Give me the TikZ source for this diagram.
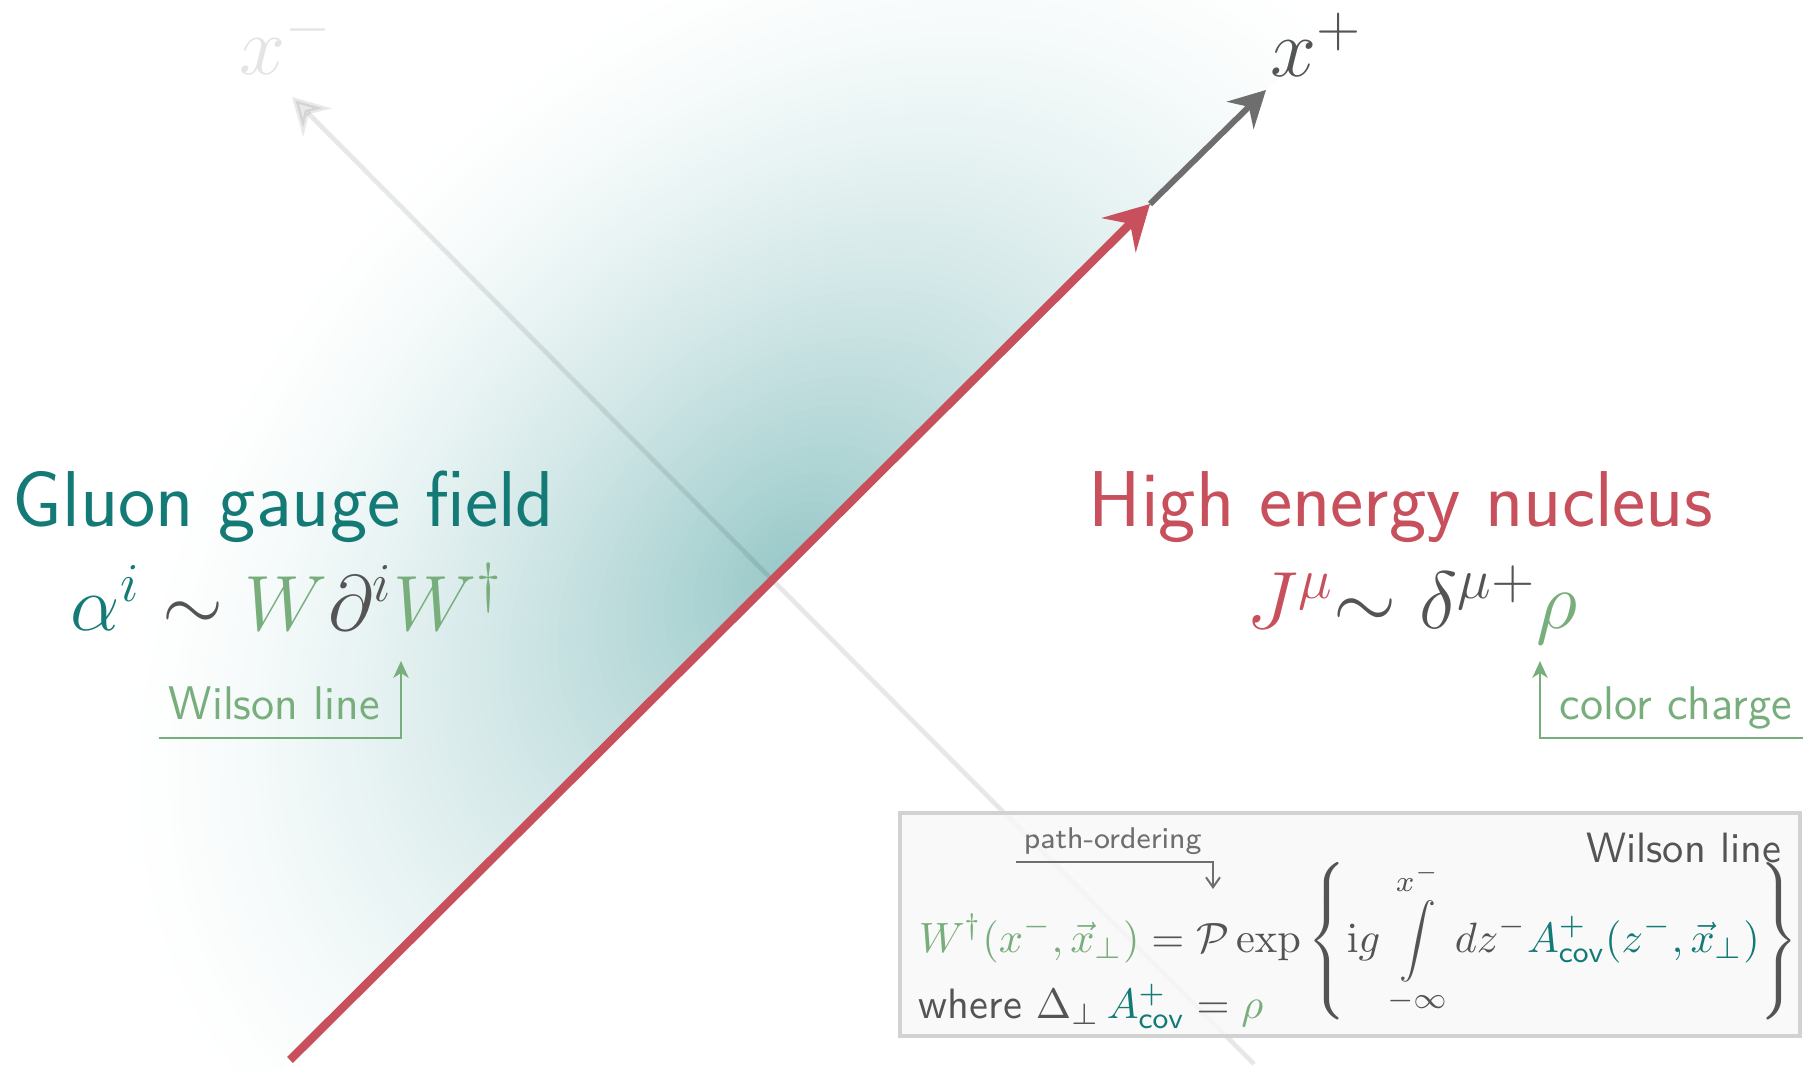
\RequirePackage{fix-cm}
\documentclass[tikz,border=0pt]{standalone}
\usepackage{amsmath}
\usepackage{graphicx}
\usetikzlibrary{arrows.meta}
\definecolor{tealc}{HTML}{137A76}
\definecolor{redc}{HTML}{C7505C}
\definecolor{greenc}{HTML}{78AD7C}
\definecolor{grayc}{HTML}{545454}
\definecolor{arrowgray}{HTML}{6E6E6E}
\definecolor{faintc}{HTML}{E4E4E4}
\definecolor{boxfill}{HTML}{F8F8F8}
\definecolor{boxdraw}{HTML}{D2D2D2}
\definecolor{shpeak}{RGB}{152,200,200}
\newcommand{\pintegral}{\mathop{\vcenter{\hbox{\scalebox{0.84}{$\displaystyle\int$}}}}\limits}
\begin{document}
\begin{tikzpicture}[x=0.25pt,y=-0.25pt,
  title/.style={font=\sffamily\fontsize{19.8}{23}\selectfont, inner sep=0pt, anchor=base west},
  formula/.style={inner sep=0pt, anchor=base west, text=grayc},
  lbl/.style={font=\sffamily\fontsize{11.8}{14}\selectfont, text=greenc, inner sep=0pt, anchor=base west},
  boxtext/.style={font=\fontsize{10.6}{13}\selectfont, text=grayc, inner sep=0pt},
  axislbl/.style={font=\fontsize{20.7}{24}\selectfont, inner sep=0pt, anchor=base west},
  redarrow/.style={draw=redc, line width=2.1pt, -{Stealth[length=11pt,width=12pt,inset=4pt]}},
  grayarrow/.style={draw=arrowgray, line width=1.5pt, -{Stealth[length=9pt,width=9.5pt,inset=3pt]}},
  faintarrow/.style={draw=black, fill=black, opacity=0.085, line width=1.2pt, -{Stealth[length=9pt,width=10pt,inset=3pt]}},
  gline/.style={draw=greenc, line width=0.6pt, -{Stealth[length=4.2pt,width=3.8pt,inset=1.2pt]}},
  pline/.style={draw=arrowgray, line width=0.5pt, -{Straight Barb[length=2.5pt,width=3.5pt]}}
]
\useasboundingbox (0,0) rectangle (1803,1071);
\fill[white] (0,0) rectangle (1803,1071);

% teal glow on the upper-left side of the nucleus world line (opaque nested rings)
\begin{scope}
  \clip (32,1316) -- (1580,-222) -- (-100,-222) -- (-100,1316) -- cycle;
  \foreach \k in {70,69,...,1} {
    \pgfmathsetmacro\rr{\k/70}
    \pgfmathsetmacro\ii{100*(1-(\k-0.5)/70)^1.5}
    \fill[shpeak!\ii!white, rotate around={45:(790,570)}]
      (790,570) ellipse ({\rr*780} and {\rr*560});
  }
\end{scope}

% axes
\coordinate (fs) at (1254,1064);
\coordinate (ft) at (292,97);
\coordinate (rs) at (290,1060);
\coordinate (rt) at (1150,204);
\coordinate (gt) at (1266,90);
\draw[faintarrow] (fs) -- (ft);
\draw[redarrow] (rs) -- (rt);
\draw[grayarrow] (rt) -- (gt);

\node[axislbl, text=faintc] (xm) at (239,75) {$x^-$};
\node[axislbl, text=grayc] (xp) at (1270,77) {$x^+$};

% left side
\node[title, text=tealc] (gl) at (12,526) {Gluon gauge field};
\node[formula, font=\fontsize{19.6}{23}\selectfont] (lform) at (70,630) {$\color{tealc}\alpha^i\color{grayc}\sim\color{greenc}W\color{grayc}\partial^i\color{greenc}W^\dagger$};
\node[lbl] (wl) at (168,719) {Wilson line};
\coordinate (wl1) at (159,738);
\coordinate (wl2) at (401,738);
\coordinate (wl3) at (401,661);
\draw[gline] (wl1) -- (wl2) -- (wl3);

% right side
\node[title, text=redc] (hn) at (1088,526) {High energy nucleus};
\node[formula, font=\fontsize{20.3}{24}\selectfont] (rform) at (1246,628) {$\color{redc}J^{\mu}\color{grayc}{\sim}\;\delta^{\mu+}\color{greenc}\rho$};
\node[lbl] (cc) at (1559,719) {color charge};
\coordinate (cc1) at (1803,738);
\coordinate (cc2) at (1540,738);
\coordinate (cc3) at (1540,661);
\draw[gline] (cc1) -- (cc2) -- (cc3);

% Wilson line box
\path[draw=boxdraw, line width=0.8pt, fill=boxfill, fill opacity=0.82] (900,813) rectangle (1800,1036);
\node[boxtext, font=\sffamily\fontsize{10.6}{13}\selectfont, anchor=base east] (wlt) at (1782,862) {Wilson line};
\node[boxtext, font=\sffamily\fontsize{7.5}{10}\selectfont, text=arrowgray, anchor=base west] (po) at (1023,848) {path-ordering};
\coordinate (po1) at (1016,862);
\coordinate (po2) at (1213,862);
\coordinate (po3) at (1213,889);
\draw[pline] (po1) -- (po2) -- (po3);
\node[boxtext, anchor=base west] (eq) at (918,952) {$\displaystyle \color{greenc}W^\dagger(x^-,\vec{x}_\perp)\color{grayc} = \mathcal{P}\exp\left\{\mathrm{i}g\pintegral_{-\infty}^{x^-} dz^-\color{tealc}A^{+}_{\textsf{cov}}(z^-,\vec{x}_\perp)\color{grayc}\right\}$};
\node[boxtext, anchor=base west] (wh) at (918,1018) {\sffamily where $\Delta_\perp\,\color{tealc}A^{+}_{\textsf{cov}}\color{grayc} = \color{greenc}\rho$};
\end{tikzpicture}
\end{document}
